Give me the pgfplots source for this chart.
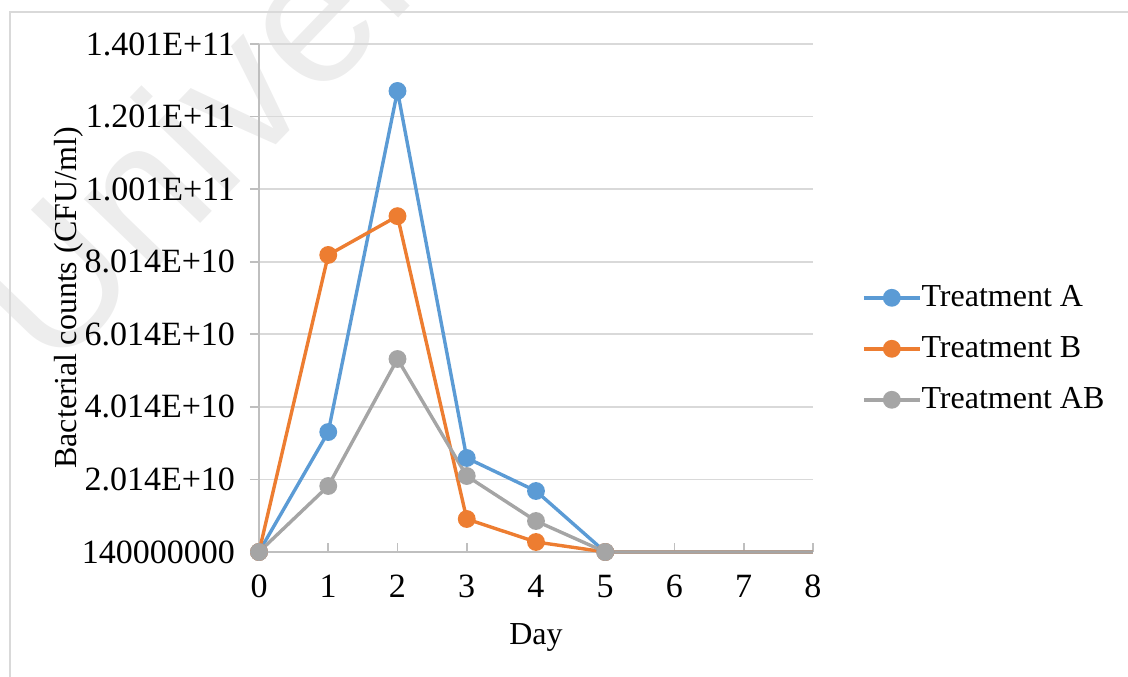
\documentclass[border=0pt]{standalone}
\usepackage{pgfplots}
\pgfplotsset{compat=1.18}
\usepackage{fontspec}
\setmainfont{Liberation Serif}
\newfontfamily\wmfont{Liberation Sans}
\definecolor{cA}{HTML}{5B9BD5}
\definecolor{cB}{HTML}{ED7D31}
\definecolor{cAB}{HTML}{A5A5A5}
\definecolor{gridc}{HTML}{D9D9D9}
\definecolor{axc}{HTML}{BFBFBF}
\definecolor{wm}{HTML}{EDEDED}
\begin{document}
\begin{tikzpicture}
\useasboundingbox (0,0) rectangle (564bp,338.5bp);
\begin{scope}
\clip (0,0) rectangle (564bp,338.5bp);
\node[rotate=46, anchor=base west, text=wm, font=\wmfont\fontsize{95bp}{100bp}\selectfont, inner sep=0pt] at (26bp,150bp) {University};
\end{scope}
\draw[gridc, line width=1bp] (5bp,0) -- (5bp,332.5bp) -- (564bp,332.5bp);
\begin{axis}[
  at={(129.5bp,62.5bp)}, anchor=south west,
  scale only axis, width=277bp, height=254bp,
  xmin=0, xmax=8, ymin=1.4e8, ymax=1.4014e11,
  clip=false,
  axis x line*=bottom, axis y line*=left,
  axis line style={axc, line width=0.8bp, -},
  xtick={0,1,...,8},
  ytick={1.4e8,2.014e10,4.014e10,6.014e10,8.014e10,1.0014e11,1.2014e11,1.4014e11},
  yticklabels={140000000,2.014E+10,4.014E+10,6.014E+10,8.014E+10,1.001E+11,1.201E+11,1.401E+11},
  scaled y ticks=false,
  /pgf/number format/assume math mode=true,
  ymajorgrids, major grid style={gridc, line width=0.8bp},
  x tick style={axc, line width=0.8bp}, y tick style={axc, line width=0.8bp},
  xtick align=inside, ytick align=outside,
  major tick length=4.5bp,
  tick label style={font=\fontsize{17bp}{20bp}\selectfont},
  label style={font=\fontsize{16bp}{19bp}\selectfont},
  xticklabel style={yshift=-8bp},
  yticklabel style={xshift=-4bp},
  xticklabels={0,1,2,3,4,5,6,7,8},
  xlabel={Day},
  ylabel={Bacterial counts (CFU/ml)},
  xlabel style={at={(axis description cs:0.5,-0.169)}, anchor=center},
  ylabel style={at={(axis description cs:-0.344,0.5)}, anchor=center, rotate=0},
  legend style={at={(axis description cs:1.088,0.40)}, anchor=west, draw=none, fill=none,
    font=\fontsize{16bp}{19bp}\selectfont, row sep=9.5bp, inner sep=0pt,
    nodes={inner xsep=0bp}},
  legend cell align=left,
  legend image code/.code={\draw[mark indices={2}] plot coordinates {(0bp,0bp)(14bp,0bp)(28bp,0bp)};},
  every axis plot/.append style={line width=1.7bp, mark=*, mark size=3.6bp, mark indices={1,2,3,4,5,6}},
]
\addplot[color=cA, mark options={fill=cA, draw=cA}] coordinates {
(0,1.4e8) (1,3.32e10) (2,1.272e11) (3,2.605e10) (4,1.695e10) (5,1.4e8) (6,1.4e8) (7,1.4e8) (8,1.4e8)};
\addlegendentry{Treatment A}
\addplot[color=cB, mark options={fill=cB, draw=cB}] coordinates {
(0,1.4e8) (1,8.2e10) (2,9.27e10) (3,9.23e9) (4,2.9e9) (5,1.4e8) (6,1.4e8) (7,1.4e8) (8,1.4e8)};
\addlegendentry{Treatment B}
\addplot[color=cAB, mark options={fill=cAB, draw=cAB}] coordinates {
(0,1.4e8) (1,1.833e10) (2,5.333e10) (3,2.108e10) (4,8.68e9) (5,1.4e8) (6,1.4e8) (7,1.4e8) (8,1.4e8)};
\addlegendentry{Treatment AB}
\end{axis}
\end{tikzpicture}
\end{document}
